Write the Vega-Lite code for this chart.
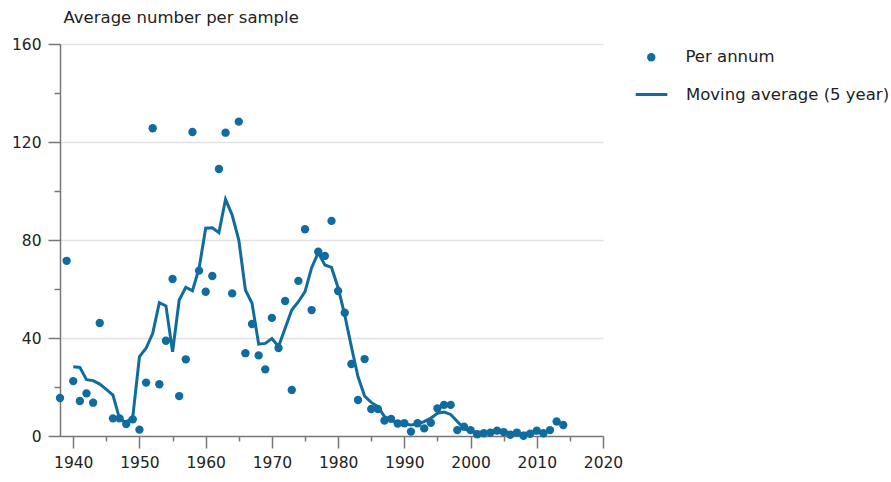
{
  "$schema": "https://vega.github.io/schema/vega-lite/v6.json",
  "width": 543,
  "height": 392,
  "autosize": "none",
  "padding": {"left": 60, "top": 44, "right": 288, "bottom": 46},
  "background": "white",
  "config": {
    "view": {"stroke": null},
    "font": "DejaVu Sans",
    "axis": {"labelFont": "DejaVu Sans", "titleFont": "DejaVu Sans", "labelColor": "#222", "titleColor": "#222"},
    "legend": {"labelFont": "DejaVu Sans", "labelColor": "#222", "labelLimit": 400}
  },
  "data": {
    "values": [
      {"year": 1938, "pa": 15.5, "ma": null},
      {"year": 1939, "pa": 71.5, "ma": null},
      {"year": 1940, "pa": 22.4, "ma": 28.3},
      {"year": 1941, "pa": 14.3, "ma": 28.0},
      {"year": 1942, "pa": 17.4, "ma": 23.0},
      {"year": 1943, "pa": 13.6, "ma": 22.6},
      {"year": 1944, "pa": 46.1, "ma": 21.2},
      {"year": 1945, "pa": null, "ma": 19.0},
      {"year": 1946, "pa": 7.2, "ma": 16.7},
      {"year": 1947, "pa": 7.2, "ma": 7.0},
      {"year": 1948, "pa": 4.9, "ma": 5.5},
      {"year": 1949, "pa": 6.8, "ma": 8.0},
      {"year": 1950, "pa": 2.6, "ma": 32.4},
      {"year": 1951, "pa": 21.8, "ma": 35.8},
      {"year": 1952, "pa": 125.6, "ma": 41.9},
      {"year": 1953, "pa": 21.1, "ma": 54.4},
      {"year": 1954, "pa": 38.9, "ma": 53.1},
      {"year": 1955, "pa": 64.1, "ma": 34.4},
      {"year": 1956, "pa": 16.3, "ma": 55.5},
      {"year": 1957, "pa": 31.3, "ma": 60.7},
      {"year": 1958, "pa": 124.1, "ma": 59.3},
      {"year": 1959, "pa": 67.5, "ma": 68.4},
      {"year": 1960, "pa": 58.9, "ma": 84.8},
      {"year": 1961, "pa": 65.3, "ma": 85.0},
      {"year": 1962, "pa": 109.0, "ma": 83.0},
      {"year": 1963, "pa": 123.8, "ma": 96.6},
      {"year": 1964, "pa": 58.2, "ma": 90.2},
      {"year": 1965, "pa": 128.3, "ma": 80.0},
      {"year": 1966, "pa": 33.8, "ma": 59.6},
      {"year": 1967, "pa": 45.7, "ma": 54.2},
      {"year": 1968, "pa": 32.9, "ma": 37.5},
      {"year": 1969, "pa": 27.2, "ma": 37.8},
      {"year": 1970, "pa": 48.2, "ma": 39.8},
      {"year": 1971, "pa": 35.9, "ma": 36.5},
      {"year": 1972, "pa": 55.1, "ma": 44.0},
      {"year": 1973, "pa": 18.8, "ma": 51.4},
      {"year": 1974, "pa": 63.3, "ma": 54.8},
      {"year": 1975, "pa": 84.4, "ma": 58.9},
      {"year": 1976, "pa": 51.4, "ma": 68.7},
      {"year": 1977, "pa": 75.2, "ma": 74.8},
      {"year": 1978, "pa": 73.5, "ma": 69.8},
      {"year": 1979, "pa": 87.8, "ma": 68.8},
      {"year": 1980, "pa": 59.2, "ma": 60.5},
      {"year": 1981, "pa": 50.3, "ma": 49.4},
      {"year": 1982, "pa": 29.4, "ma": 36.5},
      {"year": 1983, "pa": 14.7, "ma": 24.2},
      {"year": 1984, "pa": 31.4, "ma": 16.3},
      {"year": 1985, "pa": 11.0, "ma": 13.7},
      {"year": 1986, "pa": 11.0, "ma": 12.0},
      {"year": 1987, "pa": 6.3, "ma": 7.9},
      {"year": 1988, "pa": 7.0, "ma": 6.7},
      {"year": 1989, "pa": 5.1, "ma": 5.0},
      {"year": 1990, "pa": 5.2, "ma": 4.9},
      {"year": 1991, "pa": 1.8, "ma": 4.5},
      {"year": 1992, "pa": 5.2, "ma": 4.9},
      {"year": 1993, "pa": 3.1, "ma": 5.9},
      {"year": 1994, "pa": 5.4, "ma": 7.3},
      {"year": 1995, "pa": 11.3, "ma": 9.3},
      {"year": 1996, "pa": 12.7, "ma": 9.8},
      {"year": 1997, "pa": 12.7, "ma": 8.8},
      {"year": 1998, "pa": 2.4, "ma": 5.9},
      {"year": 1999, "pa": 3.8, "ma": 3.1},
      {"year": 2000, "pa": 2.4, "ma": 1.8},
      {"year": 2001, "pa": 0.7, "ma": 1.5},
      {"year": 2002, "pa": 1.1, "ma": 1.5},
      {"year": 2003, "pa": 1.4, "ma": 1.3},
      {"year": 2004, "pa": 2.2, "ma": 1.4},
      {"year": 2005, "pa": 1.6, "ma": 1.4},
      {"year": 2006, "pa": 0.5, "ma": 1.2},
      {"year": 2007, "pa": 1.4, "ma": 0.9},
      {"year": 2008, "pa": 0.1, "ma": 1.1},
      {"year": 2009, "pa": 0.9, "ma": 1.1},
      {"year": 2010, "pa": 2.2, "ma": 1.3},
      {"year": 2011, "pa": 1.1, "ma": 1.4},
      {"year": 2012, "pa": 2.4, "ma": 2.4},
      {"year": 2013, "pa": 5.9, "ma": null},
      {"year": 2014, "pa": 4.5, "ma": null}
    ]
  },
  "encoding": {
    "x": {
      "field": "year",
      "type": "quantitative",
      "scale": {"domain": [1938, 2020], "nice": false, "zero": false},
      "axis": {
        "title": null,
        "grid": false,
        "values": [1940, 1945, 1950, 1955, 1960, 1965, 1970, 1975, 1980, 1985, 1990, 1995, 2000, 2005, 2010, 2015, 2020],
        "labelExpr": "datum.value % 10 === 0 ? datum.value : ''",
        "labelFontSize": 15.5,
        "labelPadding": 7,
        "tickSize": {"condition": {"test": "datum.value % 10 === 0", "value": 12}, "value": 5},
        "tickColor": "#777",
        "tickWidth": 1.5,
        "domainColor": "#777",
        "domainWidth": 1.5,
        "labelFlush": false
      }
    }
  },
  "layer": [
    {
      "mark": {"type": "line", "strokeWidth": 3, "interpolate": "linear"},
      "transform": [{"filter": "datum.ma != null"}],
      "encoding": {
        "y": {
          "field": "ma",
          "type": "quantitative",
          "scale": {"domain": [0, 160], "nice": false},
          "axis": {
            "title": "Average number per sample",
            "titleAngle": 0,
            "titleAlign": "left",
            "titleBaseline": "alphabetic",
            "titleX": 3,
            "titleY": -22,
            "titleFontSize": 16.5,
            "titleFontWeight": "normal",
            "values": [0, 20, 40, 60, 80, 100, 120, 140, 160],
            "labelExpr": "datum.value % 40 === 0 ? datum.value : ''",
            "labelFontSize": 15.5,
            "labelPadding": 7,
            "tickSize": {"condition": {"test": "datum.value % 40 === 0", "value": 12}, "value": 6},
            "tickColor": "#777",
            "tickWidth": 1.5,
            "domainColor": "#777",
            "domainWidth": 1.5,
            "grid": true,
            "gridColor": "#e2e2e2",
            "gridWidth": 1.5,
            "gridOpacity": {"condition": {"test": "datum.value % 40 === 0 && datum.value > 0", "value": 1}, "value": 0}
          }
        },
        "color": {
          "datum": "Moving average (5 year)",
          "scale": {"range": ["#106c9f"]},
          "legend": {
            "title": null,
            "orient": "none",
            "legendX": 574,
            "legendY": 33,
            "symbolSize": 1000,
            "symbolStrokeWidth": 3,
            "labelFontSize": 16.5,
            "labelOffset": 17
          }
        }
      }
    },
    {
      "mark": {"type": "circle", "size": 70, "opacity": 1},
      "transform": [{"filter": "datum.pa != null"}],
      "encoding": {
        "y": {"field": "pa", "type": "quantitative"},
        "color": {
          "datum": "Per annum",
          "scale": {"range": ["#106c9f"]},
          "legend": {
            "title": null,
            "orient": "none",
            "legendX": 583,
            "legendY": 5,
            "symbolSize": 70,
            "symbolOpacity": 1,
            "labelFontSize": 16.5,
            "labelOffset": 26
          }
        }
      }
    }
  ],
  "resolve": {"scale": {"color": "independent"}, "legend": {"color": "independent"}}
}
